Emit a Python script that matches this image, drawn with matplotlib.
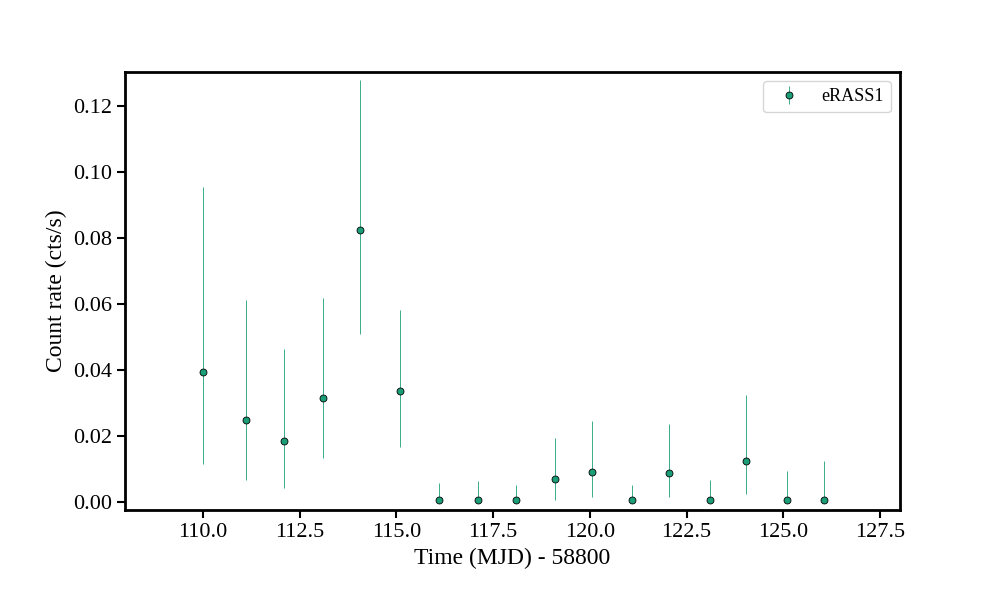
import matplotlib
matplotlib.use("Agg")
import matplotlib.pyplot as plt
import numpy as np

plt.rcParams["font.family"] = "Liberation Serif"

time = [110.0, 111.1, 112.1, 113.1, 114.05, 115.1, 116.1, 117.1, 118.1, 119.1,
        120.05, 121.1, 122.05, 123.1, 124.05, 125.1, 126.05]
rate = [0.0394, 0.0248, 0.0185, 0.0315, 0.0824, 0.0336, 0.0006, 0.0006, 0.0006, 0.0070,
        0.0091, 0.0006, 0.0088, 0.0006, 0.0124, 0.0006, 0.0006]
upper = [0.0955, 0.0612, 0.0464, 0.0618, 0.128, 0.0582, 0.0058, 0.0064, 0.0052, 0.0194,
         0.0245, 0.0052, 0.0236, 0.0067, 0.0324, 0.0094, 0.0124]
lower = [0.0115, 0.0067, 0.0042, 0.0133, 0.051, 0.0167, 0.0, 0.0, 0.0, 0.0006,
         0.0015, 0.0, 0.0015, 0.0, 0.0024, 0.0, 0.0]

r = np.array(rate)
yerr = [r - np.array(lower), np.array(upper) - r]

fig, ax = plt.subplots(figsize=(10, 6), dpi=100)
fig.subplots_adjust(left=0.125, right=0.9, bottom=0.15, top=0.88)
ax.errorbar(time, rate, yerr=yerr, fmt="o", color="#1b9e77", ecolor="#1b9e77",
            elinewidth=0.6, markersize=5, markeredgecolor="black", markeredgewidth=0.6,
            label="eRASS1")
ax.set_xlim(107.98, 128.02)
ax.set_ylim(-0.0024, 0.1303)
ax.set_xticks(np.arange(110, 128, 2.5))
ax.set_xlabel("Time (MJD) - 58800", fontsize=17)
ax.set_ylabel("Count rate (cts/s)", fontsize=17)
ax.tick_params(labelsize=16, width=1.5, length=6)
for s in ax.spines.values():
    s.set_linewidth(2)
ax.legend(loc="upper right", fontsize=13)
fig.savefig("out.png")
